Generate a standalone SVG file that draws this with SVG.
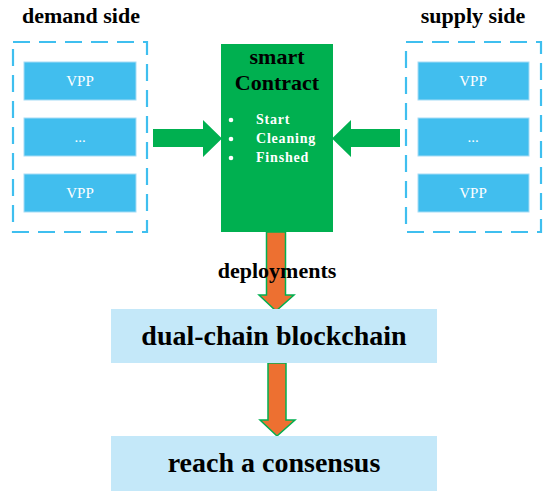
<svg xmlns="http://www.w3.org/2000/svg" width="550" height="500" viewBox="0 0 550 500">
<style>
.t{font-weight:bold;fill:#000}
.side{fill:none;stroke:#3FBFEF;stroke-width:2.2;stroke-dasharray:17 9}
.vpp{fill:#41BEEE;stroke:#A6DCF5;stroke-width:1}
.vt{font-size:15px;fill:#fff;text-anchor:middle}
.ga{fill:#00B050}
.oa{fill:#ED7031;stroke:#00B050;stroke-width:1.5}
.chain{fill:#C4E8F9}
.wt{font-weight:bold;font-size:14px;fill:#fff;letter-spacing:0.8px}
</style>
<rect width="550" height="500" fill="#fff"/>
<g font-family="Liberation Serif, Times New Roman, serif">
<g id="demand">
<text class="t" x="81" y="23" font-size="22" text-anchor="middle">demand side</text>
<rect class="side" x="13" y="42" width="134" height="190"/>
<rect class="vpp" x="24" y="62" width="112" height="38"/>
<text class="vt" x="80" y="86">VPP</text>
<rect class="vpp" x="24" y="118" width="112" height="38"/>
<text class="vt" x="80" y="142">...</text>
<rect class="vpp" x="24" y="174" width="112" height="38"/>
<text class="vt" x="80" y="198">VPP</text>
</g>
<g id="supply">
<text class="t" x="473" y="23" font-size="22" text-anchor="middle">supply side</text>
<rect class="side" x="406" y="42" width="135" height="190"/>
<rect class="vpp" x="418" y="62" width="111" height="38"/>
<text class="vt" x="473" y="86">VPP</text>
<rect class="vpp" x="418" y="118" width="111" height="38"/>
<text class="vt" x="473" y="142">...</text>
<rect class="vpp" x="418" y="174" width="111" height="38"/>
<text class="vt" x="473" y="198">VPP</text>
</g>
<g id="connectors">
<polygon class="ga" points="153,129 203,129 203,120 222,138.5 203,157 203,147 153,147"/>
<polygon class="ga" points="400,129 351,129 351,120 332,138.5 351,157 351,147 400,147"/>
<polygon class="oa" points="266.5,232 285.5,232 285.5,295 294,295 276,311 259,295 266.5,295"/>
<polygon class="oa" points="268,363 286,363 286,420 295,420 277,436 260,420 268,420"/>
</g>
<g id="contract">
<rect x="221" y="44" width="112" height="188" fill="#00B050"/>
<text class="t" x="277" y="64" font-size="22" text-anchor="middle">smart</text>
<text class="t" x="277" y="90" font-size="22" text-anchor="middle">Contract</text>
<circle cx="231" cy="120" r="2.3" fill="#fff"/>
<circle cx="231" cy="139" r="2.3" fill="#fff"/>
<circle cx="231" cy="158" r="2.3" fill="#fff"/>
<text class="wt" x="256" y="124">Start</text>
<text class="wt" x="256" y="143">Cleaning</text>
<text class="wt" x="256" y="162">Finshed</text>
</g>
<g id="deploy-label">
<text class="t" x="277" y="278" font-size="22" text-anchor="middle">deployments</text>
</g>
<g id="dual-chain">
<rect class="chain" x="111" y="309" width="326" height="54"/>
<text class="t" x="274" y="345" font-size="28" text-anchor="middle">dual-chain blockchain</text>
</g>
<g id="consensus">
<rect class="chain" x="111" y="436" width="326" height="55"/>
<text class="t" x="274" y="472" font-size="28" text-anchor="middle">reach a consensus</text>
</g>
</g>
</svg>
